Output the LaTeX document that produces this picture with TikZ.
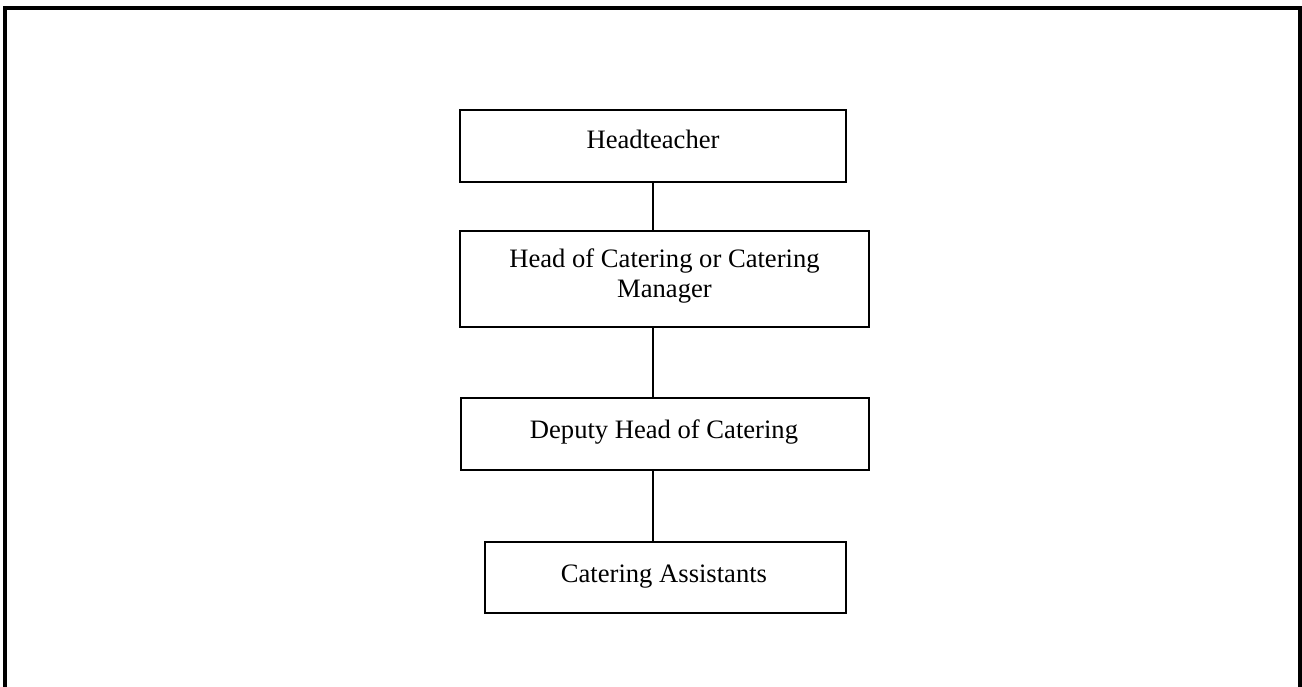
\documentclass[tikz,border=0pt]{standalone}
\usepackage{fontspec}
\setmainfont{Liberation Serif}
\begin{document}
\begin{tikzpicture}[x=0.5pt,y=-0.5pt,
  box/.style={draw=black,line width=0.8pt,rectangle,inner sep=0pt,outer sep=0pt},
  lbl/.style={inner sep=0pt,font=\fontsize{13.3pt}{15pt}\selectfont,align=center},
  link/.style={draw=black,line width=0.7pt}]
\useasboundingbox (0,0) rectangle (1302,686);
\draw[line width=2pt] (4.7,690) -- (4.7,8) -- (1299.5,8) -- (1299.5,690);
\node[box,minimum width=193pt,minimum height=36pt] (b1) at (653,146) {};
\node[box,minimum width=204.5pt,minimum height=48pt] (b2) at (664.5,279) {};
\node[box,minimum width=204pt,minimum height=36pt] (b3) at (665,434) {};
\node[box,minimum width=180.5pt,minimum height=35.5pt] (b4) at (665.5,577.5) {};
\node[lbl,anchor=base] (t1) at (653,148) {Headteacher};
\node[lbl,anchor=base] (t2) at (664.5,297) {Head of Catering or Catering\\Manager};
\node[lbl,anchor=base] (t3) at (664,438) {Deputy Head of Catering};
\node[lbl,anchor=base] (t4) at (664,582) {Catering Assistants};
\draw[link] (b1.south) -- (b1.south |- b2.north);
\draw[link] (b2.south -| b1.south) -- (b3.north -| b1.south);
\draw[link] (b3.south -| b1.south) -- (b4.north -| b1.south);
\end{tikzpicture}
\end{document}
